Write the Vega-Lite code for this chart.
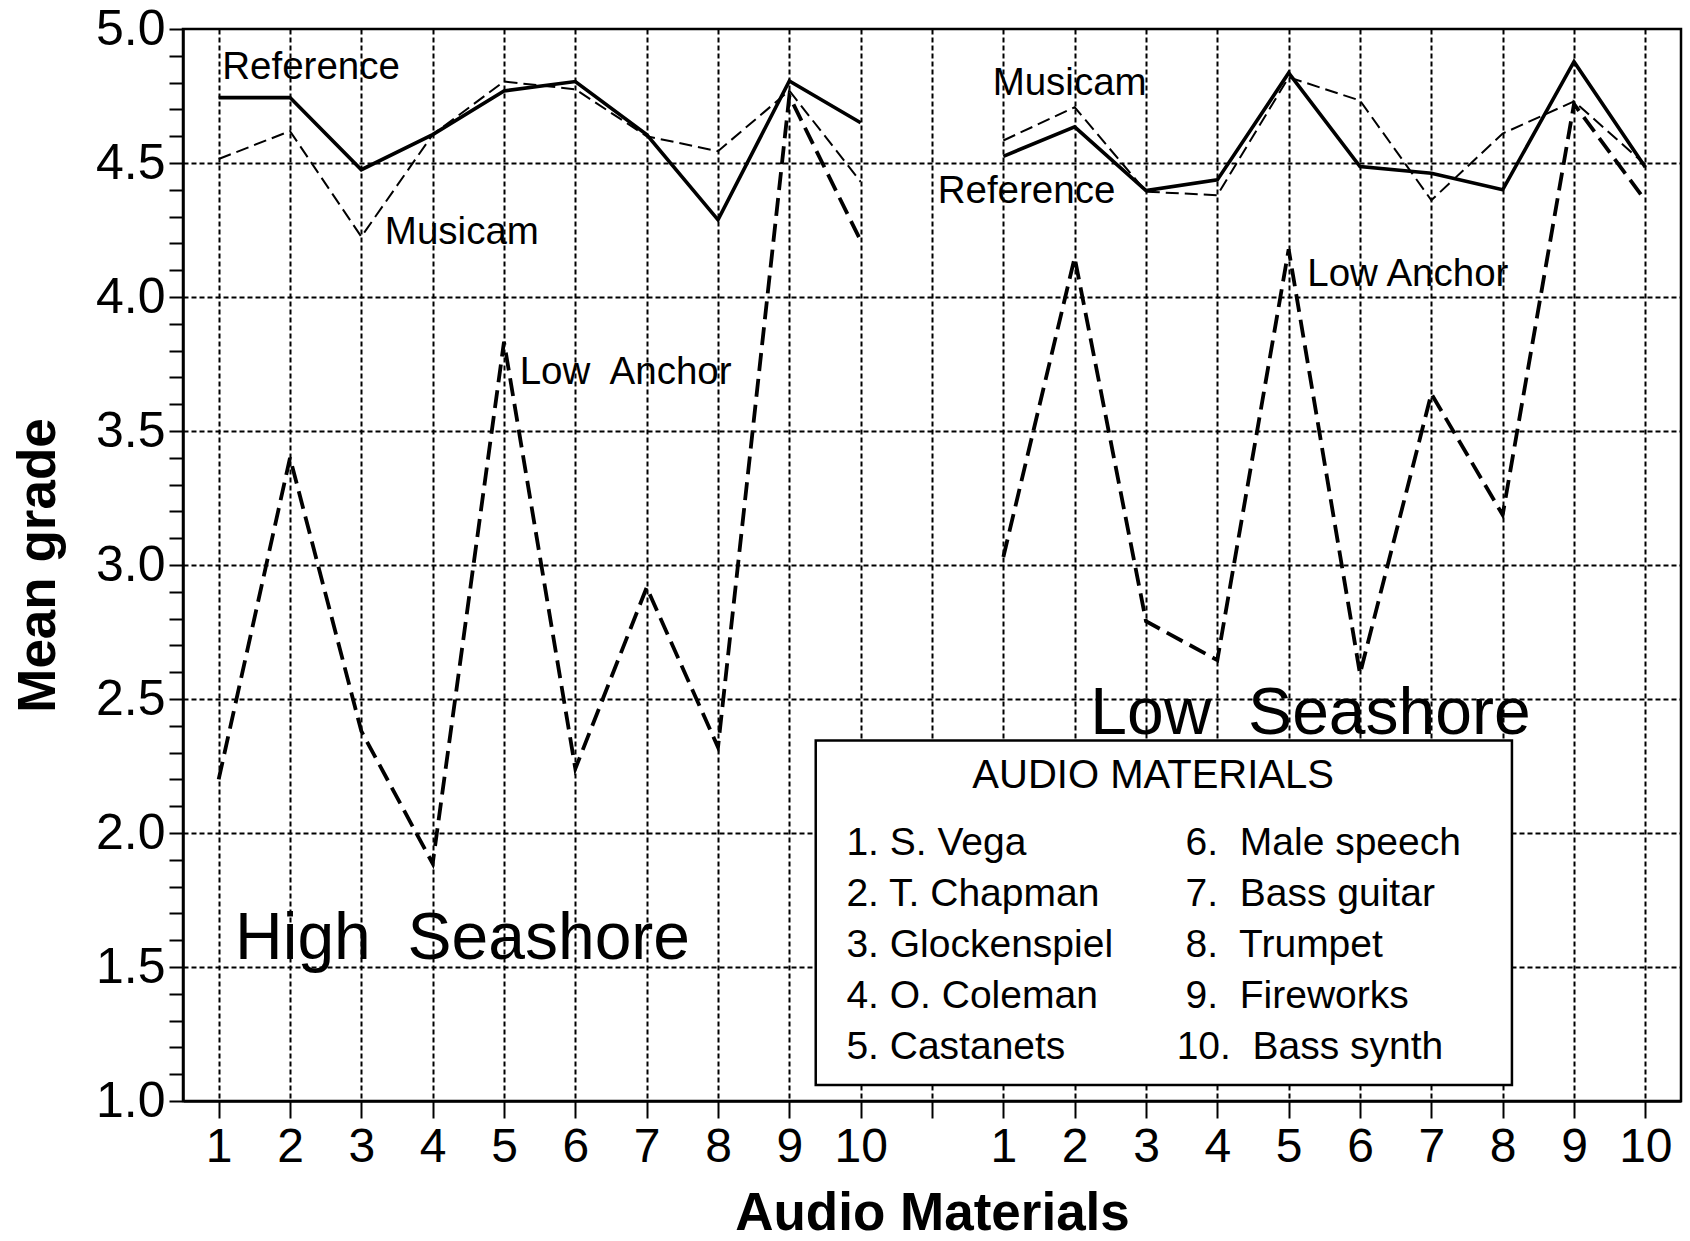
{
  "$schema": "https://vega.github.io/schema/vega-lite/v6.json",
  "width": 1498,
  "height": 1072,
  "autosize": {"type": "none"},
  "padding": {"left": 183, "top": 29, "right": 9, "bottom": 140},
  "background": "white",
  "config": {
    "view": {"stroke": "black", "strokeWidth": 2.5},
    "axis": {
      "domainColor": "black", "domainWidth": 2.5,
      "tickColor": "black", "tickWidth": 2,
      "gridColor": "black", "gridWidth": 2, "gridDash": [5, 3], "gridOpacity": 1,
      "labelColor": "black", "titleColor": "black",
      "labelFont": "Liberation Sans", "titleFont": "Liberation Sans", "titleFontWeight": "bold"
    }
  },
  "datasets": {
    "lines": [
      {"g": "High", "s": "Reference", "material": 1, "slot": 1, "v": 4.744},
      {"g": "High", "s": "Reference", "material": 2, "slot": 2, "v": 4.744},
      {"g": "High", "s": "Reference", "material": 3, "slot": 3, "v": 4.475},
      {"g": "High", "s": "Reference", "material": 4, "slot": 4, "v": 4.606},
      {"g": "High", "s": "Reference", "material": 5, "slot": 5, "v": 4.769},
      {"g": "High", "s": "Reference", "material": 6, "slot": 6, "v": 4.804},
      {"g": "High", "s": "Reference", "material": 7, "slot": 7, "v": 4.606},
      {"g": "High", "s": "Reference", "material": 8, "slot": 8, "v": 4.288},
      {"g": "High", "s": "Reference", "material": 9, "slot": 9, "v": 4.806},
      {"g": "High", "s": "Reference", "material": 10, "slot": 10, "v": 4.65},
      {"g": "High", "s": "Musicam", "material": 1, "slot": 1, "v": 4.515},
      {"g": "High", "s": "Musicam", "material": 2, "slot": 2, "v": 4.619},
      {"g": "High", "s": "Musicam", "material": 3, "slot": 3, "v": 4.225},
      {"g": "High", "s": "Musicam", "material": 4, "slot": 4, "v": 4.606},
      {"g": "High", "s": "Musicam", "material": 5, "slot": 5, "v": 4.804},
      {"g": "High", "s": "Musicam", "material": 6, "slot": 6, "v": 4.775},
      {"g": "High", "s": "Musicam", "material": 7, "slot": 7, "v": 4.6},
      {"g": "High", "s": "Musicam", "material": 8, "slot": 8, "v": 4.544},
      {"g": "High", "s": "Musicam", "material": 9, "slot": 9, "v": 4.77},
      {"g": "High", "s": "Musicam", "material": 10, "slot": 10, "v": 4.43},
      {"g": "High", "s": "Low Anchor", "material": 1, "slot": 1, "v": 2.2},
      {"g": "High", "s": "Low Anchor", "material": 2, "slot": 2, "v": 3.4},
      {"g": "High", "s": "Low Anchor", "material": 3, "slot": 3, "v": 2.38},
      {"g": "High", "s": "Low Anchor", "material": 4, "slot": 4, "v": 1.886},
      {"g": "High", "s": "Low Anchor", "material": 5, "slot": 5, "v": 3.833},
      {"g": "High", "s": "Low Anchor", "material": 6, "slot": 6, "v": 2.24},
      {"g": "High", "s": "Low Anchor", "material": 7, "slot": 7, "v": 2.916},
      {"g": "High", "s": "Low Anchor", "material": 8, "slot": 8, "v": 2.32},
      {"g": "High", "s": "Low Anchor", "material": 9, "slot": 9, "v": 4.75},
      {"g": "High", "s": "Low Anchor", "material": 10, "slot": 10, "v": 4.21},
      {"g": "Low", "s": "Reference", "material": 1, "slot": 12, "v": 4.525},
      {"g": "Low", "s": "Reference", "material": 2, "slot": 13, "v": 4.635},
      {"g": "Low", "s": "Reference", "material": 3, "slot": 14, "v": 4.397},
      {"g": "Low", "s": "Reference", "material": 4, "slot": 15, "v": 4.437},
      {"g": "Low", "s": "Reference", "material": 5, "slot": 16, "v": 4.836},
      {"g": "Low", "s": "Reference", "material": 6, "slot": 17, "v": 4.487},
      {"g": "Low", "s": "Reference", "material": 7, "slot": 18, "v": 4.462},
      {"g": "Low", "s": "Reference", "material": 8, "slot": 19, "v": 4.4},
      {"g": "Low", "s": "Reference", "material": 9, "slot": 20, "v": 4.878},
      {"g": "Low", "s": "Reference", "material": 10, "slot": 21, "v": 4.484},
      {"g": "Low", "s": "Musicam", "material": 1, "slot": 12, "v": 4.584},
      {"g": "Low", "s": "Musicam", "material": 2, "slot": 13, "v": 4.708},
      {"g": "Low", "s": "Musicam", "material": 3, "slot": 14, "v": 4.393},
      {"g": "Low", "s": "Musicam", "material": 4, "slot": 15, "v": 4.38},
      {"g": "Low", "s": "Musicam", "material": 5, "slot": 16, "v": 4.82},
      {"g": "Low", "s": "Musicam", "material": 6, "slot": 17, "v": 4.733},
      {"g": "Low", "s": "Musicam", "material": 7, "slot": 18, "v": 4.361},
      {"g": "Low", "s": "Musicam", "material": 8, "slot": 19, "v": 4.61},
      {"g": "Low", "s": "Musicam", "material": 9, "slot": 20, "v": 4.73},
      {"g": "Low", "s": "Musicam", "material": 10, "slot": 21, "v": 4.494},
      {"g": "Low", "s": "Low Anchor", "material": 1, "slot": 12, "v": 3.03},
      {"g": "Low", "s": "Low Anchor", "material": 2, "slot": 13, "v": 4.147},
      {"g": "Low", "s": "Low Anchor", "material": 3, "slot": 14, "v": 2.79},
      {"g": "Low", "s": "Low Anchor", "material": 4, "slot": 15, "v": 2.645},
      {"g": "Low", "s": "Low Anchor", "material": 5, "slot": 16, "v": 4.178},
      {"g": "Low", "s": "Low Anchor", "material": 6, "slot": 17, "v": 2.594},
      {"g": "Low", "s": "Low Anchor", "material": 7, "slot": 18, "v": 3.639},
      {"g": "Low", "s": "Low Anchor", "material": 8, "slot": 19, "v": 3.187},
      {"g": "Low", "s": "Low Anchor", "material": 9, "slot": 20, "v": 4.72},
      {"g": "Low", "s": "Low Anchor", "material": 10, "slot": 21, "v": 4.36}
    ],
    "notes": [
      {"kind": "label", "text": "Reference", "slot": 1.05, "v": 4.813},
      {"kind": "label", "text": "Musicam", "slot": 3.33, "v": 4.199},
      {"kind": "label", "text": "Low\u00a0 Anchor", "slot": 5.22, "v": 3.677},
      {"kind": "label", "text": "Musicam", "slot": 11.85, "v": 4.754},
      {"kind": "label", "text": "Reference", "slot": 11.08, "v": 4.352},
      {"kind": "label", "text": "Low Anchor", "slot": 16.26, "v": 4.04},
      {"kind": "big", "text": "High\u00a0 Seashore", "slot": 1.23, "v": 1.53},
      {"kind": "big", "text": "Low\u00a0 Seashore", "slot": 13.22, "v": 2.37},
      {"kind": "title", "text": "AUDIO MATERIALS", "slot": 14.1, "v": 2.168},
      {"kind": "item", "text": "1. S. Vega", "slot": 9.8, "v": 1.918},
      {"kind": "item", "text": "2. T. Chapman", "slot": 9.8, "v": 1.728},
      {"kind": "item", "text": "3. Glockenspiel", "slot": 9.8, "v": 1.537},
      {"kind": "item", "text": "4. O. Coleman", "slot": 9.8, "v": 1.347},
      {"kind": "item", "text": "5. Castanets", "slot": 9.8, "v": 1.157},
      {"kind": "item", "text": "6.\u00a0 Male speech", "slot": 14.555, "v": 1.918},
      {"kind": "item", "text": "7.\u00a0 Bass guitar", "slot": 14.555, "v": 1.728},
      {"kind": "item", "text": "8.\u00a0 Trumpet", "slot": 14.555, "v": 1.537},
      {"kind": "item", "text": "9.\u00a0 Fireworks", "slot": 14.555, "v": 1.347},
      {"kind": "item", "text": "10.\u00a0 Bass synth", "slot": 14.43, "v": 1.157}
    ],
    "box": [
      {"slot": 9.37, "slot2": 19.13, "v": 2.345, "v2": 1.06}
    ]
  },
  "encoding": {
    "x": {
      "field": "slot", "type": "quantitative",
      "scale": {"domain": [0.5, 21.5], "nice": false, "zero": false},
      "axis": {
        "title": "Audio Materials",
        "values": [1, 2, 3, 4, 5, 6, 7, 8, 9, 10, 11, 12, 13, 14, 15, 16, 17, 18, 19, 20, 21],
        "labelExpr": "datum.value <= 10 ? datum.value : (datum.value == 11 ? '' : datum.value - 11)",
        "tickSize": 17, "labelPadding": 5, "labelFontSize": 48,
        "labelFlush": false, "labelOverlap": false,
        "titleFontSize": 53, "titlePadding": 16
      }
    },
    "y": {
      "field": "v", "type": "quantitative",
      "scale": {"domain": [1, 5], "nice": false, "zero": false},
      "axis": {
        "title": "Mean grade",
        "values": [1.0, 1.1, 1.2, 1.3, 1.4, 1.5, 1.6, 1.7, 1.8, 1.9, 2.0, 2.1, 2.2, 2.3, 2.4, 2.5, 2.6, 2.7, 2.8, 2.9, 3.0, 3.1, 3.2, 3.3, 3.4, 3.5, 3.6, 3.7, 3.8, 3.9, 4.0, 4.1, 4.2, 4.3, 4.4, 4.5, 4.6, 4.7, 4.8, 4.9, 5.0],
        "labelExpr": "round(datum.value * 10) % 5 == 0 ? format(datum.value, '.1f') : ''",
        "gridOpacity": {"condition": {"test": "round(datum.value * 10) % 5 == 0 && datum.value > 1.01 && datum.value < 4.99", "value": 1}, "value": 0},
        "tickSize": 14, "labelPadding": 4, "labelFontSize": 50,
        "labelFlush": false, "labelOverlap": false,
        "titleFontSize": 53, "titlePadding": 30
      }
    }
  },
  "layer": [
    {
      "data": {"name": "lines"},
      "transform": [{"filter": "datum.s == 'Reference'"}],
      "mark": {"type": "line", "color": "black", "strokeWidth": 3.6},
      "encoding": {"detail": {"field": "g", "type": "nominal"}}
    },
    {
      "data": {"name": "lines"},
      "transform": [{"filter": "datum.s == 'Musicam'"}],
      "mark": {"type": "line", "color": "black", "strokeWidth": 2, "strokeDash": [13, 6]},
      "encoding": {"detail": {"field": "g", "type": "nominal"}}
    },
    {
      "data": {"name": "lines"},
      "transform": [{"filter": "datum.s == 'Low Anchor'"}],
      "mark": {"type": "line", "color": "black", "strokeWidth": 3.8, "strokeDash": [18, 8]},
      "encoding": {"detail": {"field": "g", "type": "nominal"}}
    },
    {
      "data": {"name": "box"},
      "mark": {"type": "rect", "fill": "white", "stroke": "black", "strokeWidth": 2.5},
      "encoding": {
        "x2": {"field": "slot2"},
        "y2": {"field": "v2"}
      }
    },
    {
      "data": {"name": "notes"},
      "transform": [{"filter": "datum.kind == 'label'"}],
      "mark": {"type": "text", "font": "Liberation Sans", "fontSize": 38.5, "align": "left", "baseline": "alphabetic", "color": "black"},
      "encoding": {"text": {"field": "text"}}
    },
    {
      "data": {"name": "notes"},
      "transform": [{"filter": "datum.kind == 'big'"}],
      "mark": {"type": "text", "font": "Liberation Sans", "fontSize": 66, "align": "left", "baseline": "alphabetic", "color": "black"},
      "encoding": {"text": {"field": "text"}}
    },
    {
      "data": {"name": "notes"},
      "transform": [{"filter": "datum.kind == 'title'"}],
      "mark": {"type": "text", "font": "Liberation Sans", "fontSize": 40, "align": "center", "baseline": "alphabetic", "color": "black"},
      "encoding": {"text": {"field": "text"}}
    },
    {
      "data": {"name": "notes"},
      "transform": [{"filter": "datum.kind == 'item'"}],
      "mark": {"type": "text", "font": "Liberation Sans", "fontSize": 39, "align": "left", "baseline": "alphabetic", "color": "black"},
      "encoding": {"text": {"field": "text"}}
    }
  ]
}
